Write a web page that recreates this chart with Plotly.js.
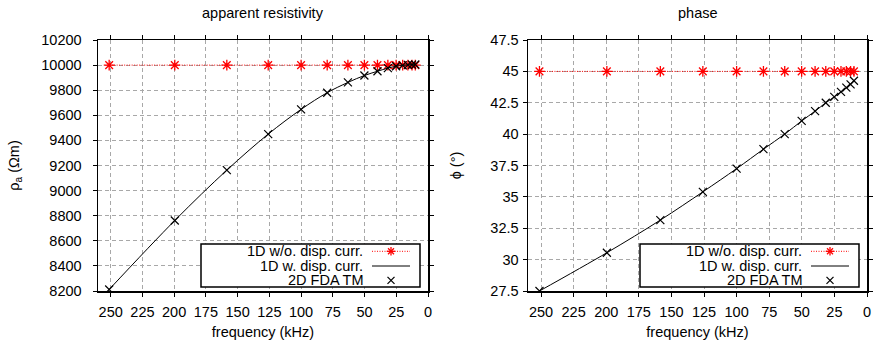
<!DOCTYPE html>
<html>
<head>
<meta charset="utf-8">
<script src="https://cdn.plot.ly/plotly-3.0.1.min.js"></script>
<style>html,body{margin:0;padding:0;background:#fff;}#chart{width:875px;height:340px;}</style>
</head>
<body>
<div id="chart"></div>
<script>
// ---- data ----
var freqKHz = [251.2, 199.5, 158.5, 125.9, 100.0, 79.43, 63.10, 50.12, 39.81, 31.62, 25.12, 19.95, 15.85, 12.59, 10.0];
// apparent resistivity (Ohm m)
var rho1DNoDisp = [10000, 10000, 10000, 10000, 10000, 10000, 10000, 10000, 10000, 10000, 10000, 10000, 10000, 10000, 10000];
var rho1DDisp   = [8212, 8762, 9163, 9450, 9647, 9780, 9862, 9917, 9951, 9976, 9991, 9998, 10002, 10004, 10005];
var rho2DFDA    = [8212, 8762, 9163, 9450, 9647, 9780, 9862, 9917, 9951, 9976, 9991, 9998, 10002, 10004, 10005];
// phase (degrees)
var phi1DNoDisp = [45, 45, 45, 45, 45, 45, 45, 45, 45, 45, 45, 45, 45, 45, 45];
var phi1DDisp   = [27.5, 30.55, 33.15, 35.4, 37.25, 38.8, 40.0, 41.05, 41.83, 42.5, 42.97, 43.37, 43.7, 43.97, 44.25];
var phi2DFDA    = [27.5, 30.55, 33.15, 35.4, 37.25, 38.8, 40.0, 41.05, 41.83, 42.5, 42.97, 43.37, 43.7, 43.97, 44.25];
// tick labels / texts
var freqTicks = [250, 225, 200, 175, 150, 125, 100, 75, 50, 25, 0];
var seriesNames = ['1D w/o. disp. curr.', '1D w. disp. curr.', '2D FDA TM'];
var panelTitles = ['apparent resistivity', 'phase'];

// ---- styling ----
var FONT = 'Liberation Sans, Arial, Helvetica, sans-serif';
var FS = 14.5;
var RED = '#ff0000';
var GRID = '#a8a8a8';

// pixel -> paper helpers (plot area: x 98..867, y 40..291)
var ML = 98, MR = 8, MT = 40, MB = 49, W = 875, H = 340;
var PW = W - ML - MR, PH = H - MT - MB;
function px(x) { return (x - ML) / PW; }
function py(y) { return (H - MB - y) / PH; }

function traces(xa, ya, yNo, yW, y2D) {
  return [
    {x: freqKHz, y: yNo, xaxis: xa, yaxis: ya, name: seriesNames[0], mode: 'lines+markers',
     line: {color: RED, dash: '1px,1.5px', width: 1},
     marker: {symbol: 'asterisk-open', size: 9, color: RED, line: {color: RED, width: 1.3}},
     showlegend: false},
    {x: freqKHz, y: yW, xaxis: xa, yaxis: ya, name: seriesNames[1], mode: 'lines',
     line: {color: '#000', width: 1, shape: 'spline'}, showlegend: false},
    {x: freqKHz, y: y2D, xaxis: xa, yaxis: ya, name: seriesNames[2], mode: 'markers',
     marker: {symbol: 'x-thin-open', size: 8, color: '#000', line: {color: '#000', width: 1.2}},
     showlegend: false}
  ];
}

var data = traces('x', 'y', rho1DNoDisp, rho1DDisp, rho2DFDA)
  .concat(traces('x2', 'y2', phi1DNoDisp, phi1DDisp, phi2DFDA));

function xAxis(dom, anchor) {
  return {
    domain: dom, anchor: anchor, range: [260, 0], tickmode: 'array', tickvals: freqTicks,
    ticks: 'outside', ticklen: 4, tickcolor: '#000', tickwidth: 1,
    showline: true, linecolor: '#000', linewidth: 1.5, mirror: 'ticks',
    showgrid: true, gridcolor: GRID, gridwidth: 1, griddash: '4px,3px', zeroline: false,
    tickfont: {family: FONT, size: FS, color: '#000'}, ticklabelstandoff: 3,
    title: {text: 'frequency (kHz)', font: {family: FONT, size: FS, color: '#000'}, standoff: 10},
    automargin: false
  };
}
function yAxis(range, dtick, anchor, title, standoff, tstand, fmt) {
  return {
    anchor: anchor, range: range, dtick: dtick, tick0: range[0], tickformat: fmt,
    ticks: 'outside', ticklen: 4, tickcolor: '#000', tickwidth: 1,
    showline: true, linecolor: '#000', linewidth: 1.5, mirror: 'ticks',
    showgrid: true, gridcolor: GRID, gridwidth: 1, griddash: '4px,3px', zeroline: false,
    tickfont: {family: FONT, size: FS, color: '#000'}, ticklabelstandoff: tstand,
    title: {text: title, font: {family: FONT, size: FS, color: '#000'}, standoff: standoff},
    automargin: false
  };
}

// legend boxes drawn in layout (gnuplot style: text right-aligned, sample on right)
var shapes = [], annotations = [];
function legendAt(dx) {
  var bx0 = 201 + dx, bx1 = 420 + dx, by0 = 244, by1 = 287;
  shapes.push({type: 'rect', xref: 'paper', yref: 'paper', x0: px(bx0), x1: px(bx1), y0: py(by1), y1: py(by0),
               line: {color: '#000', width: 1.5}, fillcolor: '#fff', layer: 'above'});
  var rows = [251.3, 266, 280.3];
  var tx = 364 + dx, s0 = 372 + dx, s1 = 410 + dx, sc = 391 + dx;
  for (var i = 0; i < 3; i++) {
    annotations.push({xref: 'paper', yref: 'paper', x: px(tx), y: py(rows[i]), xanchor: 'right', yanchor: 'middle',
      text: seriesNames[i], showarrow: false, borderpad: 0, font: {family: FONT, size: FS, color: '#000'}});
  }
  // sample lines
  shapes.push({type: 'line', xref: 'paper', yref: 'paper', x0: px(s0), x1: px(s1), y0: py(rows[0]), y1: py(rows[0]),
               line: {color: RED, width: 1, dash: '1px,1.5px'}, layer: 'above'});
  shapes.push({type: 'line', xref: 'paper', yref: 'paper', x0: px(s0), x1: px(s1), y0: py(rows[1]), y1: py(rows[1]),
               line: {color: '#000', width: 1}, layer: 'above'});
  // asterisk sample
  var r = 4.3, d = 3.0;
  [[-r, 0, r, 0], [0, -r, 0, r], [-d, -d, d, d], [-d, d, d, -d]].forEach(function (s) {
    shapes.push({type: 'line', xref: 'paper', yref: 'paper', x0: px(sc + s[0]), x1: px(sc + s[2]),
      y0: py(rows[0] + s[1]), y1: py(rows[0] + s[3]), line: {color: RED, width: 1.3}, layer: 'above'});
  });
  // cross sample
  var c = 3.5;
  [[-c, -c, c, c], [-c, c, c, -c]].forEach(function (s) {
    shapes.push({type: 'line', xref: 'paper', yref: 'paper', x0: px(sc + s[0]), x1: px(sc + s[2]),
      y0: py(rows[2] + s[1]), y1: py(rows[2] + s[3]), line: {color: '#000', width: 1.2}, layer: 'above'});
  });
}
legendAt(0);
legendAt(439);

// panel titles
annotations.push({xref: 'paper', yref: 'paper', x: px(263), y: py(13), xanchor: 'center', yanchor: 'middle',
  text: panelTitles[0], showarrow: false, font: {family: FONT, size: FS, color: '#000'}});
annotations.push({xref: 'paper', yref: 'paper', x: px(697.5), y: py(13), xanchor: 'center', yanchor: 'middle',
  text: panelTitles[1], showarrow: false, font: {family: FONT, size: FS, color: '#000'}});

var layout = {
  width: W, height: H,
  margin: {l: ML, r: MR, t: MT, b: MB, pad: 0},
  paper_bgcolor: '#fff', plot_bgcolor: '#fff',
  font: {family: FONT, size: FS, color: '#000'},
  showlegend: false,
  xaxis: xAxis([0, px(428)], 'y'),
  xaxis2: xAxis([px(528), 1], 'y2'),
  yaxis: yAxis([8200, 10200], 200, 'x', '\u03c1<sub>a</sub> (\u03a9m)', 18, 8, 'd'),
  yaxis2: yAxis([27.5, 47.5], 2.5, 'x2', '\u03d5 (\u00b0)', 25, 1, ''),
  shapes: shapes,
  annotations: annotations
};

Plotly.newPlot('chart', data, layout, {displayModeBar: false, staticPlot: true});
</script>
</body>
</html>
